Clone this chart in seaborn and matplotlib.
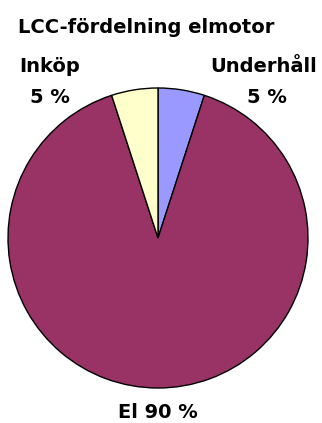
import matplotlib
matplotlib.use("Agg")
import matplotlib.pyplot as plt
import seaborn as sns

categories = ["Underhåll", "El", "Inköp"]
values = [5, 90, 5]
colors = ["#9999FF", "#993366", "#FFFFCC"]
label_names = ["Underhåll", "El", "Inköp"]
label_pcts = ["5 %", "90 %", "5 %"]
title = "LCC-fördelning elmotor"

sns.set_theme(style="white")
plt.rcParams['font.family'] = ['DejaVu Sans']

W, H = 322, 423
fig = plt.figure(figsize=(W / 100, H / 100), dpi=100)
fig.patch.set_facecolor("white")

cx, cy, r = 158, 238, 150
ax = fig.add_axes([(cx - r) / W, 1 - (cy + r) / H, 2 * r / W, 2 * r / H])
ax.pie(values, colors=colors, startangle=90, counterclock=False,
       wedgeprops=dict(edgecolor="black", linewidth=1.0))
ax.set_xlim(-1, 1)
ax.set_ylim(-1, 1)
ax.set_aspect("auto")
ax.axis("off")

fs = 14
kw = dict(fontsize=fs, fontweight="bold", color="black", va="baseline")
fig.text(18 / W, 1 - 33 / H, title, ha="left", **kw)
fig.text(50 / W, 1 - 72 / H, label_names[2], ha="center", **kw)
fig.text(50 / W, 1 - 103 / H, label_pcts[2], ha="center", **kw)
fig.text(264 / W, 1 - 72 / H, label_names[0], ha="center", **kw)
fig.text(267 / W, 1 - 103 / H, label_pcts[0], ha="center", **kw)
fig.text(158 / W, 1 - 418 / H, f"{label_names[1]} {label_pcts[1]}", ha="center", **kw)

fig.savefig("out.png", dpi=100, facecolor="white")
